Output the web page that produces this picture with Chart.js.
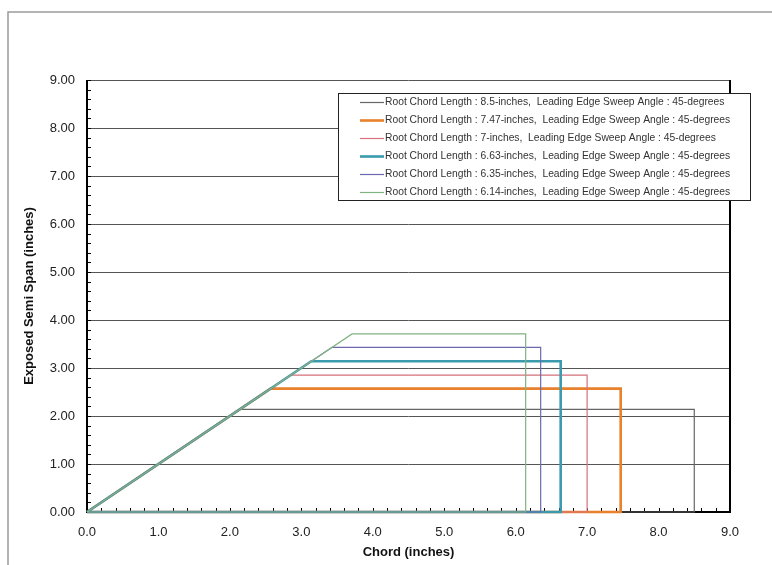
<!DOCTYPE html>
<html>
<head>
<meta charset="utf-8">
<script src="https://cdn.jsdelivr.net/npm/chart.js@4/dist/chart.umd.min.js"></script>
<style>
  html, body { margin: 0; padding: 0; background: #fff; }
  #wrap { width: 772px; height: 565px; position: relative; }
</style>
</head>
<body>
<div id="wrap"><canvas id="c" width="772" height="565"></canvas></div>
<script>
// Wing planforms: root chord and exposed semi span, 45-degree leading edge sweep
const rootChord = [8.5, 7.47, 7, 6.63, 6.35, 6.14];
const semiSpan  = [2.14, 2.57, 2.85, 3.14, 3.43, 3.71];
const sweepDeg  = [45, 45, 45, 45, 45, 45];
const seriesLabels = rootChord.map((c, i) =>
  'Root Chord Length : ' + c + '-inches,  Leading Edge Sweep Angle : ' + sweepDeg[i] + '-degrees');
const xTicks = [0, 1, 2, 3, 4, 5, 6, 7, 8, 9];
const yTicks = [0, 1, 2, 3, 4, 5, 6, 7, 8, 9];

const lineColors = ['#666666', '#e8802c', '#d8707c', '#3a9aae', '#6c68b0', '#80b480'];
const lineWidths = [1.2, 2.6, 1.2, 2.6, 1.2, 1.2];

// Outline of each planform: root LE -> tip LE -> tip TE -> root TE -> back along the root
function outline(i) {
  const c = rootChord[i], h = semiSpan[i];
  const run = h / Math.tan(sweepDeg[i] * Math.PI / 180);
  return [{x: 0, y: 0}, {x: run, y: h}, {x: c, y: h}, {x: c, y: 0}, {x: 0, y: 0}];
}

const datasets = rootChord.map((c, i) => ({
  label: seriesLabels[i],
  data: outline(i),
  borderColor: lineColors[i],
  backgroundColor: lineColors[i],
  borderWidth: lineWidths[i],
  showLine: true,
  pointRadius: 0,
  fill: false,
  tension: 0,
  clip: false,
  order: rootChord.length - i
}));

const FONT = '"Liberation Sans", Arial, sans-serif';

// Outer frame, plot border and small tick marks
const framePlugin = {
  id: 'frame',
  beforeDraw(chart) {
    const ctx = chart.ctx;
    ctx.save();
    ctx.strokeStyle = '#9a9a9a';
    ctx.lineWidth = 1.5;
    ctx.beginPath();
    ctx.moveTo(8, 565);
    ctx.lineTo(8, 12);
    ctx.lineTo(772, 12);
    ctx.stroke();
    ctx.restore();
  },
  beforeDatasetsDraw(chart) {
    const {ctx, chartArea: a, scales: {x, y}} = chart;
    ctx.save();
    ctx.strokeStyle = '#000';
    ctx.lineWidth = 1;
    ctx.beginPath();
    for (let k = 0; k <= 45; k++) {
      const v = k * 0.2;
      const py = Math.round(y.getPixelForValue(v)) + 0.5;
      ctx.moveTo(a.left, py); ctx.lineTo(a.left + 4, py);
      const px = Math.round(x.getPixelForValue(v)) + 0.5;
      ctx.moveTo(px, a.bottom); ctx.lineTo(px, a.bottom - 4);
    }
    ctx.stroke();
    ctx.lineWidth = 2;
    ctx.beginPath();
    ctx.moveTo(a.left, a.top);
    ctx.lineTo(a.left, a.bottom);
    ctx.lineTo(a.right, a.bottom);
    ctx.lineTo(a.right, a.top);
    ctx.stroke();
    ctx.restore();
  }
};

// Boxed legend inside the plot area
const boxLegend = {
  id: 'boxLegend',
  afterDraw(chart) {
    const ctx = chart.ctx;
    const bx = 338.5, by = 93.5, bw = 412, bh = 107;
    ctx.save();
    ctx.fillStyle = '#fff';
    ctx.fillRect(bx, by, bw, bh);
    ctx.strokeStyle = '#222';
    ctx.lineWidth = 1;
    ctx.strokeRect(bx, by, bw, bh);
    ctx.font = '10.3px ' + FONT;
    ctx.textBaseline = 'middle';
    ctx.fillStyle = '#333';
    chart.data.datasets.forEach((ds, i) => {
      const ry = 102 + i * 18;
      ctx.strokeStyle = ds.borderColor;
      ctx.lineWidth = ds.borderWidth;
      ctx.beginPath();
      ctx.moveTo(360, ry + 0.5);
      ctx.lineTo(384, ry + 0.5);
      ctx.stroke();
      ctx.fillText(ds.label, 385, ry);
    });
    ctx.restore();
  }
};

new Chart(document.getElementById('c'), {
  type: 'scatter',
  data: { datasets },
  options: {
    responsive: false,
    animation: false,
    devicePixelRatio: 1,
    layout: { padding: { left: 0, right: 42, top: 80, bottom: 0 } },
    plugins: { legend: { display: false }, tooltip: { enabled: false } },
    scales: {
      x: {
        type: 'linear', min: 0, max: 9,
        afterBuildTicks: s => { s.ticks = xTicks.map(v => ({value: v})); },
        afterFit: s => { s.height = 53; },
        grid: { display: false, drawTicks: false },
        border: { display: false },
        ticks: { color: '#222', font: { family: FONT, size: 13 }, padding: 13,
                 maxRotation: 0, callback: v => Number(v).toFixed(1) },
        title: { display: true, text: 'Chord (inches)', color: '#111',
                 font: { family: FONT, size: 13, weight: 'bold' }, padding: { top: 0, bottom: 5 } }
      },
      y: {
        type: 'linear', min: 0, max: 9,
        afterBuildTicks: s => { s.ticks = yTicks.map(v => ({value: v})); },
        afterFit: s => { s.width = 87; },
        grid: { color: '#555', lineWidth: 1, drawTicks: false },
        border: { display: false },
        ticks: { color: '#222', font: { family: FONT, size: 13 }, padding: 12,
                 callback: v => Number(v).toFixed(2) },
        title: { display: true, text: 'Exposed Semi Span (inches)', color: '#111',
                 font: { family: FONT, size: 13, weight: 'bold' }, padding: { top: 22, bottom: 0 } }
      }
    }
  },
  plugins: [framePlugin, boxLegend]
});
</script>
</body>
</html>
